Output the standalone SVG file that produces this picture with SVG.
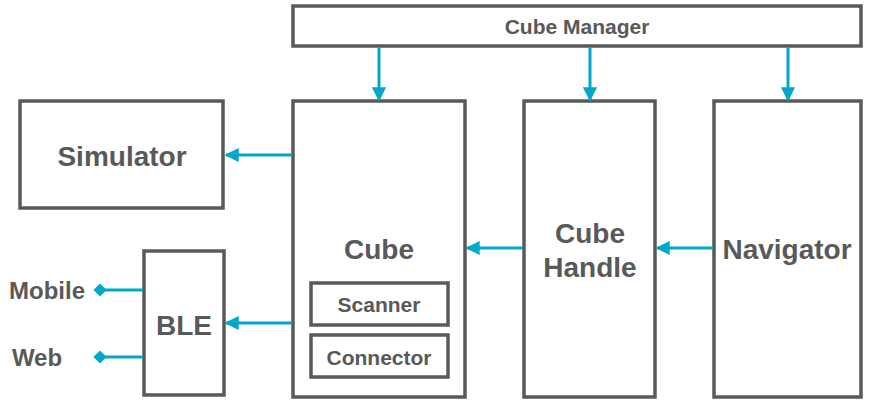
<svg xmlns="http://www.w3.org/2000/svg" width="872" height="406" viewBox="0 0 872 406">
<defs>
<style>
.box{fill:#fff;stroke:#595959;stroke-width:3.5}
.t{font-family:"Liberation Sans",Arial,sans-serif;font-weight:bold;fill:#595959;text-anchor:middle;dominant-baseline:central}
.c{stroke:#00a9c9;stroke-width:3;fill:none}
</style>
<marker id="ah" viewBox="0 0 10 10" refX="9" refY="5" markerWidth="5" markerHeight="4.7" orient="auto" markerUnits="strokeWidth"><path d="M0,0L10,5L0,10z" fill="#00a9c9"/></marker>
<marker id="dm" viewBox="0 0 10 10" refX="5" refY="5" markerWidth="4.4" markerHeight="4.4" orient="auto" markerUnits="strokeWidth"><path d="M5,0L10,5L5,10L0,5z" fill="#00a9c9"/></marker>
</defs>
<g id="cube-manager"><rect class="box" x="293" y="6" width="568" height="40"/><text class="t" x="577" y="26" font-size="21">Cube Manager</text></g>
<g id="simulator"><rect class="box" x="20" y="101" width="203" height="107"/><text class="t" x="122" y="156" font-size="28">Simulator</text></g>
<g id="cube"><rect class="box" x="293" y="101" width="172" height="296"/><text class="t" x="379" y="249" font-size="28">Cube</text></g>
<g id="scanner"><rect class="box" x="311" y="283" width="137" height="42"/><text class="t" x="379" y="304" font-size="21">Scanner</text></g>
<g id="connector"><rect class="box" x="311" y="335" width="137" height="42"/><text class="t" x="379" y="357" font-size="21">Connector</text></g>
<g id="cube-handle"><rect class="box" x="524" y="101" width="131" height="296"/><text class="t" x="590" y="233" font-size="28">Cube</text><text class="t" x="590" y="267" font-size="28">Handle</text></g>
<g id="navigator"><rect class="box" x="714" y="101" width="147" height="296"/><text class="t" x="787" y="249" font-size="28">Navigator</text></g>
<g id="ble"><rect class="box" x="144" y="251" width="80" height="144"/><text class="t" x="184" y="325" font-size="28">BLE</text></g>
<g id="mobile"><text class="t" x="47" y="290" font-size="24">Mobile</text></g>
<g id="web"><text class="t" x="37" y="357" font-size="24">Web</text></g>
<g id="connectors">
<line class="c" x1="379" y1="47" x2="379" y2="100" marker-end="url(#ah)"/>
<line class="c" x1="590" y1="47" x2="590" y2="100" marker-end="url(#ah)"/>
<line class="c" x1="788" y1="47" x2="788" y2="100" marker-end="url(#ah)"/>
<line class="c" x1="292" y1="155" x2="226" y2="155" marker-end="url(#ah)"/>
<line class="c" x1="292" y1="323" x2="226" y2="323" marker-end="url(#ah)"/>
<line class="c" x1="523" y1="248" x2="467" y2="248" marker-end="url(#ah)"/>
<line class="c" x1="713" y1="248" x2="657" y2="248" marker-end="url(#ah)"/>
<line class="c" x1="143" y1="290" x2="100" y2="290" marker-end="url(#dm)"/>
<line class="c" x1="143" y1="357" x2="100" y2="357" marker-end="url(#dm)"/>
</g>
</svg>
